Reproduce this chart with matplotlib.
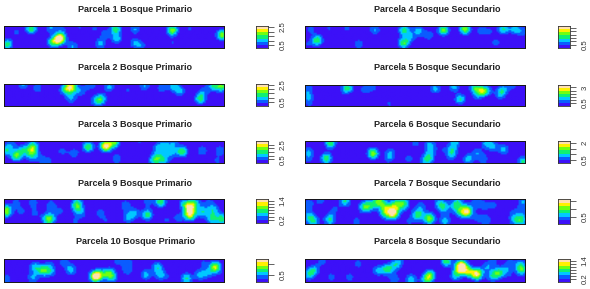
import numpy as np
import matplotlib
matplotlib.use("Agg")
import matplotlib.pyplot as plt
from matplotlib.colors import ListedColormap, BoundaryNorm

plt.rcParams['font.family'] = ['Liberation Sans', 'DejaVu Sans']

# Hot spots: x (0-100), y (0-10), relative peak height
p1_x = [5.3,12.1,21,26,25.4,23.4,21,1.2,31,43.5,41,45.8,50.6,51,59.4,59,62,68,76.3,84,81.6,76.3,99,34]
p1_y = [7.5,9,9.5,9,4.5,3,2.3,1.5,.5,1.8,9,6.5,9,4.2,8.8,2.3,.8,6.8,8.3,9,2.3,2.3,6,10]
p1_h = [.22,.6,.35,.2,.85,.5,.3,.55,.35,.4,.2,.25,.55,.42,.35,.3,.28,.16,.7,.2,.18,.18,.7,.2]

p2_x = [8.3,15,30.2,27.2,34.7,39.3,47.6,43.8,40.8,30.2,55.9,63.7,71.5,77,80,89,90.6,95,99,22.7]
p2_y = [9.5,8,8.5,7.2,6.5,9.5,8.5,2.7,2,3.2,7.2,9,8,8.8,6.5,3,6.5,9,8.8,.5]
p2_h = [.35,.28,.85,.4,.3,.3,.38,.55,.25,.35,.2,.35,.28,.4,.35,.55,.25,.45,.6,.15]

p3_x = [.8,3,5.3,8.3,12.8,12.8,12,16.3,20,22.4,26.6,31.7,38,46,50,51,61.6,69.5,72.5,77,80.8,75.5,70.3,68,72.5,90,98,96.7,59.7]
p3_y = [5.5,8.7,3,5.6,5.6,8.3,2.7,1.5,.5,5.6,5,4.2,7.2,7.5,9.3,1.5,9.5,6.5,8,8.8,5,4.2,2.7,1,.5,5.4,5.5,.5,2.7]
p3_h = [.45,.25,.6,.4,.55,.35,.3,.22,.22,.15,.2,.28,.6,.95,.6,.32,.2,.3,.35,.3,.6,.35,.3,.45,.35,.32,.3,.2,.12]

p9_x = [.8,5.3,7.5,13,13.6,21,21,18.9,25.4,33.2,32.5,34.7,32,38,43.5,46.5,48,55,59,56,65,65,71,73.6,79,84.3,84.6,81.6,87,90,95,94.4,99,93]
p9_y = [5,9.3,5,8.9,4,7.5,1.5,1.5,5,8.9,6.8,4.7,.5,.5,4,.5,9.6,7.5,4,2,3.3,9.3,9.2,1,2,3.3,6.8,8.2,8.9,4.7,5.7,1.5,1.5,9.3]
p9_h = [.75,.22,.22,.28,.22,.3,.45,.35,.2,.35,.35,.3,.2,.15,.25,.18,.15,.3,.35,.35,.55,.25,.6,.2,.25,.8,.75,.35,.3,.45,.4,.45,.55,.18]

p10_x = [3.8,13.6,17.4,21,20.4,12.8,7.5,.8,27.2,30.2,34.4,41.2,43.8,47.6,49,51.7,55.9,56.6,64.2,69.5,71,75.5,79.3,83.8,82.8,89,93,90.6,96,99]
p10_y = [9.6,6.7,4.9,4.5,7.8,1.6,3.8,.9,8.8,5.2,9.6,2.3,3,3.8,1.6,9.6,5.2,9.6,3,6.7,3,1.6,8.4,8.4,1.3,3,3.8,8.4,6.7,1.9]
p10_h = [.15,.4,.55,.35,.2,.35,.12,.3,.3,.42,.18,.95,.4,.5,.35,.3,.32,.2,.4,.42,.4,.15,.15,.15,.5,.4,.3,.2,.75,.15]

p4_x = [5.3,2.3,10.6,19,24.2,31.5,.8,44.8,47.6,44.6,51.4,56,62.8,72.6,79.9,83.7,90,95.3,99,86.7,13.6]
p4_y = [3.4,8.8,9.3,9.3,1.5,8.5,1.5,8.4,5,2,8,5.7,8.3,8.8,8,7.6,8.8,8.8,7.6,2.3,3]
p4_h = [.6,.25,.2,.22,.3,.35,.18,.55,.3,.6,.4,.3,.7,.7,.25,.2,.5,.4,.25,.25,.12]

p5_x = [18.9,.8,1.2,1.5,10.6,15.9,27.2,31,33.7,38,59,67.5,70.4,77.1,80.2,82.4,78,89.6,88.5,98.3,93.8]
p5_y = [8.7,8.9,4.6,1,8.4,4.3,8,9.5,5,.7,8.4,9.2,3.1,8.9,7.2,7.5,4.4,7.9,5,9.5,9.5]
p5_h = [.6,.3,.35,.2,.12,.12,.3,.2,.15,.2,.4,.4,.5,.5,.5,.35,.25,.4,.3,.15,.2]

p6_x = [11.3,9.4,1.5,1.2,16.6,30.6,38.6,37.8,46.9,50,56.7,56.7,56,53.7,62,68,66.6,66.3,74,77.9,80.9,82.4,85.5,90.3,99,37]
p6_y = [8.9,1.8,5.1,1.7,2.6,4.1,4.4,1.7,1.7,9,8.2,5.1,1.7,.6,5.8,9.4,5.8,2.9,1.4,4.4,1.4,8.9,7.1,5.9,.3,10]
p6_h = [.6,.6,.3,.25,.12,.7,.3,.25,.25,.25,.35,.25,.45,.2,.15,.4,.35,.3,.4,.3,.28,.4,.3,.38,.5,.15]

p7_x = [1.2,6.8,17.9,13.2,1.5,3.8,10.9,23,26.5,29.5,33.3,36.3,39.8,36,40.8,44.6,44.6,51,52.6,56.3,47,60.5,62.8,63.5,68,70.2,73.4,69.6,78,81.7,82.2,78,85.5,89.6,94.6,98.3,95,99,99]
p7_y = [8.1,9.7,9.5,5.9,2.7,.7,1.6,.7,7,7.4,9.5,6.8,4.3,4,8,7.4,9.5,3.6,7.4,2,.7,8.8,6.8,1,7.4,4.7,5.1,9.5,8.8,7.4,1.4,2,8,5.1,5.1,1.4,1.4,9.5,6]
p7_h = [.3,.25,.5,.2,.4,.4,.5,.25,.5,.4,.65,.45,.9,.4,.5,.35,.3,.55,.25,.7,.2,.3,.45,.4,.35,.35,.85,.3,.3,.2,.3,.2,.2,.15,.15,.5,.35,.3,.2]

p8_x = [7.6,3.8,1.5,11.6,20,24,32.5,37,40.8,42.7,40.4,48,56.7,55,64,68,71,70,74,78,82.4,87.7,84.7,91.5,85.5,92.8,98.3,97.6,93.8]
p8_y = [9.3,5.2,3,1.9,1.9,8.1,4.9,5.5,7.4,9.3,.9,.9,3,.6,9.3,2.3,7.4,5.2,4.5,3.3,6.7,3.8,2.3,5.2,9.3,9.3,5.2,8.1,.9]
p8_h = [.25,.4,.4,.25,.25,.25,.35,.55,.35,.25,.3,.45,.55,.5,.6,.35,.85,.5,.6,.9,.3,.55,.35,.3,.22,.2,.55,.3,.15]

titles = ["Parcela 1 Bosque Primario", "Parcela 2 Bosque Primario", "Parcela 3 Bosque Primario",
          "Parcela 9 Bosque Primario", "Parcela 10 Bosque Primario",
          "Parcela 4 Bosque Secundario", "Parcela 5 Bosque Secundario", "Parcela 6 Bosque Secundario",
          "Parcela 7 Bosque Secundario", "Parcela 8 Bosque Secundario"]
spots = [(p1_x,p1_y,p1_h),(p2_x,p2_y,p2_h),(p3_x,p3_y,p3_h),(p9_x,p9_y,p9_h),(p10_x,p10_y,p10_h),
         (p4_x,p4_y,p4_h),(p5_x,p5_y,p5_h),(p6_x,p6_y,p6_h),(p7_x,p7_y,p7_h),(p8_x,p8_y,p8_h)]
zmins = [.17,0,0,0,.2,0,0,.25,.06,0]
zmaxs = [2.62,2.6,3.0,1.5,1.2,3.3,3.4,2.15,1.62,1.5]
tick_vals = [[.5,1,1.5,2,2.5],[.5,1,1.5,2,2.5],[.5,1,1.5,2,2.5],[.2,.4,.6,.8,1,1.2,1.4],[.5,1],
             [.5,1,1.5,2,2.5,3],[.5,1,1.5,2,2.5,3],[.5,1,1.5,2],[.5,1,1.5],[.2,.4,.6,.8,1,1.2,1.4]]
tick_labs = [{.5:"0.5",2.5:"2.5"},{.5:"0.5",2.5:"2.5"},{.5:"0.5",2.5:"2.5"},{.2:"0.2",1.4:"1.4"},{.5:"0.5"},
             {.5:"0.5"},{.5:"0.5",3:"3"},{.5:"0.5",2:"2"},{.5:"0.5"},{.2:"0.2",1.4:"1.4"}]
band_colors = ['#3C10F8', '#0A5CFF', '#00C8FF', '#10F070', '#70FF10', '#FFF000', '#FFE0B0']

# layout in reference pixels
W, H = 590, 289
lefts = [3.5]*5 + [305]*5
rights = [224]*5 + [525.5]*5
tops = [26,84,141,199,259,26,85,141,199,259]
bots = [48,106,163,223,282,48,106,163,224,282]
cb_l = [256]*5 + [558]*5
cb_r = [268]*5 + [570]*5
t_x = [135.5]*5 + [437]*5
t_y = [9,67,124.5,183,242,9,67,124.5,183,242]

NB = len(band_colors)
cmap = ListedColormap(band_colors)
SIGMA = 1.9

fig = plt.figure(figsize=(W/100, H/100), dpi=100, facecolor='white')
gx = np.linspace(0, 100, 150)
gy = np.linspace(0, 10, 16)
X, Y = np.meshgrid(gx, gy)

for i in range(10):
    ax = fig.add_axes([lefts[i]/W, 1-bots[i]/H, (rights[i]-lefts[i])/W, (bots[i]-tops[i])/H])
    zmin, zmax = zmins[i], zmaxs[i]
    levels = np.linspace(zmin, zmax, NB+1)
    Z = np.zeros_like(X)
    for x0, y0, h in zip(*spots[i]):
        Z += h*np.exp(-((X-x0)**2+(Y-y0)**2)/(2*SIGMA**2))
    Z = zmin + np.clip(Z, 0, 0.995)**1.15*(zmax-zmin)
    norm = BoundaryNorm(levels, NB)
    ax.imshow(Z, origin='lower', extent=(0, 100, 0, 10), aspect='auto', cmap=cmap, norm=norm,
              interpolation='bilinear', interpolation_stage='rgba')
    ax.set_xlim(0, 100); ax.set_ylim(0, 10)
    ax.set_xticks([]); ax.set_yticks([])
    for s in ax.spines.values():
        s.set_linewidth(0.7); s.set_color('#151515')

    cax = fig.add_axes([cb_l[i]/W, 1-bots[i]/H, (cb_r[i]-cb_l[i])/W, (bots[i]-tops[i])/H])
    cax.pcolormesh([0, 1], levels, np.arange(NB)[:, None], cmap=cmap,
                   norm=BoundaryNorm(np.arange(NB+1)-.5, NB))
    cax.set_xticks([])
    cax.yaxis.tick_right()
    cax.set_ylim(zmin, zmax)
    cax.set_yticks(tick_vals[i])
    cax.set_yticklabels([tick_labs[i].get(v, "") for v in tick_vals[i]],
                        rotation=90, va='center', fontsize=5.6, color='#333333')
    cax.tick_params(axis='y', length=4.5, width=0.5, pad=4, color='#222222')
    for s in cax.spines.values():
        s.set_linewidth(0.6); s.set_color('#333333')

    fig.text(t_x[i]/W, 1-t_y[i]/H, titles[i], ha='center', va='center',
             fontsize=6.5, fontweight='bold', color='#222222')

fig.savefig('out.png', dpi=100)
